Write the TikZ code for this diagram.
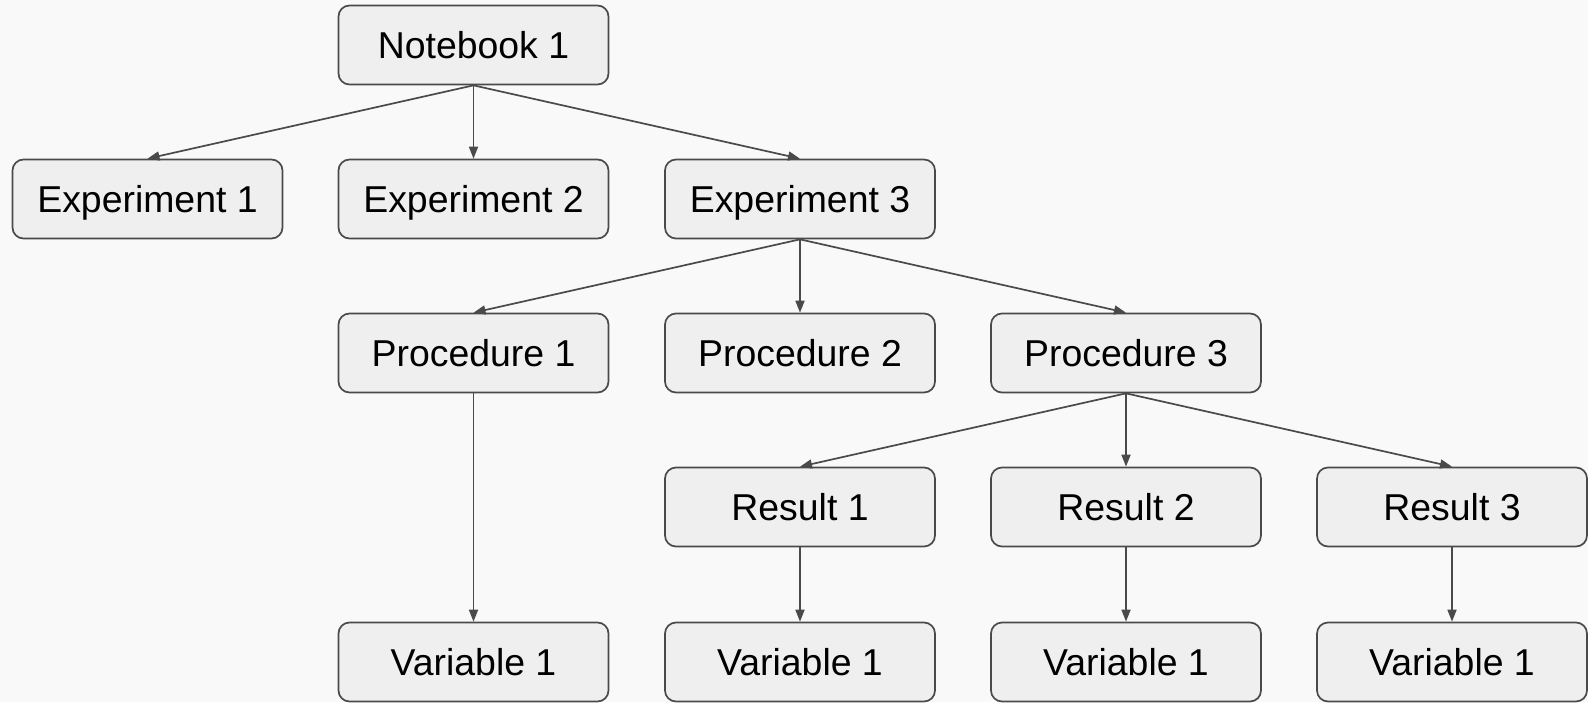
\documentclass[tikz,border=0pt]{standalone}
\usepackage{fontspec}
\setmainfont{Liberation Sans}
\usetikzlibrary{arrows.meta}
\definecolor{bg}{HTML}{F9F9F9}
\definecolor{boxfill}{HTML}{EFEFEF}
\definecolor{edge}{HTML}{4A4A4A}
\begin{document}
\begin{tikzpicture}[x=1pt,y=-1pt,
  box/.style={draw=edge, fill=boxfill, line width=1.7pt, rounded corners=11pt,
    minimum width=270pt, minimum height=79pt, inner sep=0pt,
    text height=33.8pt, text depth=7pt,
    font=\fontsize{37.4}{40}\selectfont},
  conn/.style={draw=edge, line width=1.7pt, -{Triangle[length=12pt,width=9pt]}}]
\fill[bg] (0,0) rectangle (1588,702);
\useasboundingbox (0,0) rectangle (1588,702);
\node[box] (nb) at (473.5,45) {Notebook 1};
\node[box] (e1) at (147.5,199) {Experiment 1};
\node[box] (e2) at (473.5,199) {Experiment 2};
\node[box] (e3) at (800,199) {Experiment 3};
\node[box] (p1) at (473.5,353) {Procedure 1};
\node[box] (p2) at (800,353) {Procedure 2};
\node[box] (p3) at (1126,353) {Procedure 3};
\node[box] (r1) at (800,507) {Result 1};
\node[box] (r2) at (1126,507) {Result 2};
\node[box] (r3) at (1452,507) {Result 3};
\node[box] (v1) at (473.5,662) {Variable 1};
\node[box] (v2) at (800,662) {Variable 1};
\node[box] (v3) at (1126,662) {Variable 1};
\node[box] (v4) at (1452,662) {Variable 1};
\draw[conn] (nb.south) -- (e1.north);
\draw[conn] (nb.south) -- (e2.north);
\draw[conn] (nb.south) -- (e3.north);
\draw[conn] (e3.south) -- (p1.north);
\draw[conn] (e3.south) -- (p2.north);
\draw[conn] (e3.south) -- (p3.north);
\draw[conn] (p3.south) -- (r1.north);
\draw[conn] (p3.south) -- (r2.north);
\draw[conn] (p3.south) -- (r3.north);
\draw[conn] (p1.south) -- (v1.north);
\draw[conn] (r1.south) -- (v2.north);
\draw[conn] (r2.south) -- (v3.north);
\draw[conn] (r3.south) -- (v4.north);
\end{tikzpicture}
\end{document}
